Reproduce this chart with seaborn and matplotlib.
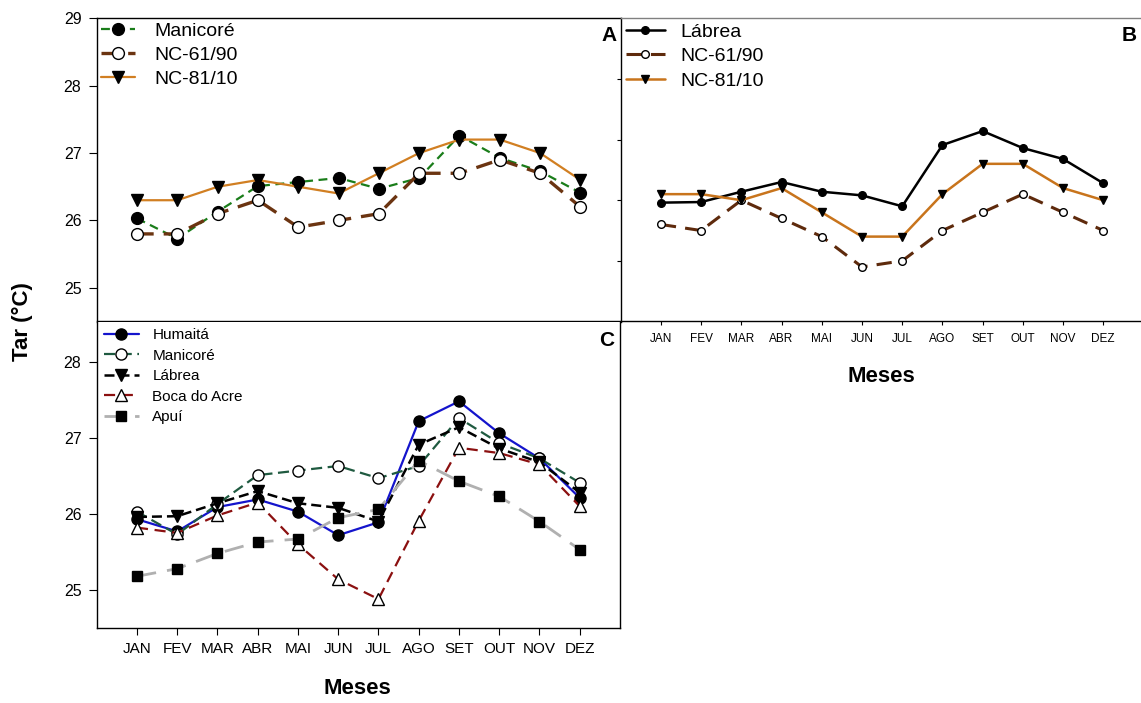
import numpy as np
import matplotlib.pyplot as plt
import seaborn as sns

meses = ['JAN', 'FEV', 'MAR', 'ABR', 'MAI', 'JUN', 'JUL', 'AGO', 'SET', 'OUT', 'NOV', 'DEZ']

# painel A - Manicoré x normais climatológicas
a_manicore = [26.03, 25.73, 26.13, 26.51, 26.57, 26.63, 26.47, 26.63, 27.26, 26.93, 26.73, 26.41]
a_nc6190 = [25.8, 25.8, 26.1, 26.3, 25.9, 26.0, 26.1, 26.7, 26.7, 26.9, 26.7, 26.2]
a_nc8110 = [26.3, 26.3, 26.5, 26.6, 26.5, 26.4, 26.7, 27.0, 27.2, 27.2, 27.0, 26.6]

# painel B - Lábrea x normais climatológicas
b_labrea = [25.96, 25.97, 26.14, 26.30, 26.14, 26.08, 25.90, 26.91, 27.14, 26.86, 26.68, 26.28]
b_nc6190 = [25.6, 25.5, 26.0, 25.7, 25.4, 24.9, 25.0, 25.5, 25.8, 26.1, 25.8, 25.5]
b_nc8110 = [26.1, 26.1, 26.0, 26.2, 25.8, 25.4, 25.4, 26.1, 26.6, 26.6, 26.2, 26.0]

# painel C - todas as estações
c_humaita = [25.93, 25.77, 26.09, 26.19, 26.03, 25.72, 25.89, 27.22, 27.48, 27.06, 26.73, 26.21]
c_manicore = a_manicore
c_labrea = b_labrea
c_boca = [25.82, 25.75, 25.98, 26.15, 25.60, 25.14, 24.88, 25.91, 26.87, 26.80, 26.65, 26.10]
c_apui = [25.18, 25.28, 25.48, 25.63, 25.67, 25.95, 26.06, 26.70, 26.43, 26.23, 25.90, 25.53]

sns.set_style('ticks')
plt.rcParams['font.family'] = ['Liberation Sans', 'DejaVu Sans']
plt.rcParams.update({'text.color': 'black', 'axes.labelcolor': 'black',
                     'xtick.color': 'black', 'ytick.color': 'black'})

x = np.arange(len(meses))


def serie(ax, y, label, color, marker, ls, lw, ms, mfc='black'):
    sns.lineplot(x=x, y=y, ax=ax, label=label, color=color, marker=marker,
                 linestyle=ls, linewidth=lw, markersize=ms,
                 markerfacecolor=mfc, markeredgecolor='black', markeredgewidth=1)


W, H = 1141, 703
fig = plt.figure(figsize=(W / 100, H / 100), dpi=100)


def box(l, t, r, b):
    return [l / W, 1 - b / H, (r - l) / W, (b - t) / H]


axA = fig.add_axes(box(96.7, 18.3, 620.7, 321.5))
axB = fig.add_axes(box(620.7, 18.3, 1143.5, 321.5))
axC = fig.add_axes(box(96.7, 321.5, 620.0, 628))

# A
serie(axA, a_manicore, 'Manicoré', '#1a7d1a', 'o', (0, (4, 2.5)), 1.6, 8.5)
serie(axA, a_nc6190, 'NC-61/90', '#6b3411', 'o', (0, (5, 3)), 2.4, 8.5, 'white')
serie(axA, a_nc8110, 'NC-81/10', '#d17f22', 'v', '-', 1.6, 8.5)

# B
serie(axB, b_labrea, 'Lábrea', 'black', 'o', '-', 1.8, 5.5)
serie(axB, b_nc6190, 'NC-61/90', '#5e2a0c', 'o', (0, (5, 3)), 2.2, 5.5, 'white')
serie(axB, b_nc8110, 'NC-81/10', '#c8741c', 'v', '-', 1.8, 5.5)

# C
serie(axC, c_humaita, 'Humaitá', '#1414cc', 'o', '-', 1.6, 8)
serie(axC, c_manicore, 'Manicoré', '#1f5a40', 'o', (0, (5, 2.5)), 1.6, 8, 'white')
serie(axC, c_labrea, 'Lábrea', 'black', 'v', (0, (4, 2)), 1.8, 8)
serie(axC, c_boca, 'Boca do Acre', '#8b1010', '^', (0, (5, 3)), 1.6, 8, 'white')
serie(axC, c_apui, 'Apuí', '#b0b0b0', 's', (0, (7, 4)), 2.0, 7.5)

for ax in (axA, axB, axC):
    ax.set_xlim(-1, 12)
    ax.set_xticks(x)
    ax.set_xlabel('')
    ax.set_ylabel('')
    for s in ax.spines.values():
        s.set_color('black')
        s.set_linewidth(1.0)

axA.set_ylim(24.5, 29)
axA.set_yticks([25, 26, 27, 28, 29])
axA.set_xticklabels([])
axA.tick_params(axis='y', direction='out', length=6, pad=5, labelsize=11.5)
axA.tick_params(axis='x', direction='out', length=4)
axA.spines['right'].set_visible(False)

axB.set_ylim(24, 29)
axB.set_yticks([25, 26, 27, 28])
axB.set_yticklabels([])
axB.set_xticklabels(meses)
axB.tick_params(axis='y', direction='out', length=3)
axB.tick_params(axis='x', direction='out', length=3, pad=5, labelsize=8.5)
axB.spines['top'].set_color('#808080')
axB.spines['right'].set_visible(False)

axC.set_ylim(24.5, 28.53)
axC.set_yticks([25, 26, 27, 28])
axC.set_xticklabels(meses)
axC.tick_params(axis='y', direction='out', length=6, pad=5, labelsize=11.5)
axC.tick_params(axis='x', direction='out', length=5, pad=5, labelsize=11)
axC.spines['top'].set_visible(False)

axA.legend(loc='upper left', bbox_to_anchor=(0, 1), borderaxespad=0, borderpad=0.2,
           handlelength=1.75, handletextpad=1.0, labelspacing=0.33, fontsize=14, frameon=False)
axB.legend(loc='upper left', bbox_to_anchor=(0, 1), borderaxespad=0, borderpad=0.25,
           handlelength=2.05, handletextpad=0.75, labelspacing=0.35, fontsize=14, frameon=False)
axC.legend(loc='upper left', bbox_to_anchor=(0, 1), borderaxespad=0, borderpad=0.45,
           handlelength=2.3, handletextpad=0.9, labelspacing=0.42, fontsize=11, frameon=False)

axA.text(0.993, 0.975, 'A', transform=axA.transAxes, ha='right', va='top', fontsize=15, fontweight='bold')
axB.text(0.988, 0.975, 'B', transform=axB.transAxes, ha='right', va='top', fontsize=15, fontweight='bold')
axC.text(0.989, 0.968, 'C', transform=axC.transAxes, ha='right', va='top', fontsize=15, fontweight='bold')

fig.text(881 / W, 1 - 377 / H, 'Meses', ha='center', va='center', fontsize=16, fontweight='bold')
fig.text(357 / W, 1 - 688 / H, 'Meses', ha='center', va='center', fontsize=16, fontweight='bold')
fig.text(22 / W, 1 - 322 / H, 'Tar (°C)', rotation=90, ha='center', va='center', fontsize=16, fontweight='bold')

fig.savefig('out.png', dpi=100)
